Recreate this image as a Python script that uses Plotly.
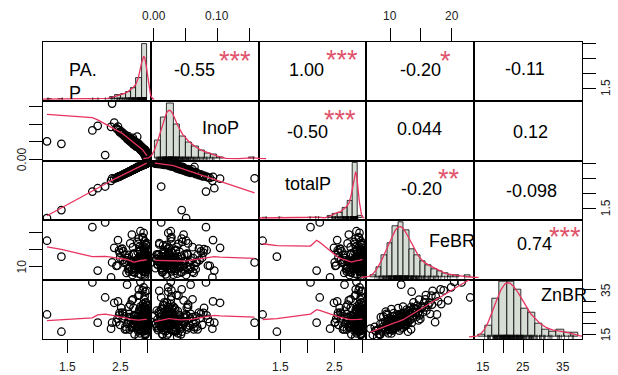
import numpy as np
import plotly.graph_objects as go
from plotly.subplots import make_subplots

# ---------------- data ----------------
PA_P = [1.12, 1.39, 1.97, 2.07, 2.21, 2.32, 2.34, 2.62, 2.87, 2.93, 2.99,
        2.97, 2.81, 2.91, 2.71, 2.99, 2.61, 2.94, 2.51, 2.96,
        2.98, 2.81, 2.92, 2.71, 2.95, 2.42, 2.99, 2.64, 2.93,
        2.97, 2.82, 2.53, 2.72, 2.98, 2.45, 2.91, 2.82, 2.96,
        2.94, 2.83, 2.65, 2.73, 2.99, 2.38, 2.95, 2.83, 2.92,
        2.98, 2.84, 2.97, 2.74, 2.93, 2.55, 2.96, 2.84, 2.99,
        2.91, 2.85, 2.95, 2.75, 2.98, 2.66, 2.94, 2.85, 2.97,
        2.92, 2.85, 2.96, 2.75, 2.99, 2.47, 2.93, 2.86, 2.98,
        2.95, 2.86, 2.97, 2.76, 2.91, 2.57, 2.94, 2.87, 2.96,
        2.99, 2.87, 2.92, 2.77, 2.98, 2.67, 2.95, 2.88, 2.97,
        2.93, 2.88, 2.96, 2.78, 2.94, 2.49, 2.99, 2.88, 2.98,
        2.91, 2.89, 2.95, 2.79, 2.97, 2.68, 2.92, 2.89, 2.96,
        2.93, 2.89, 2.98, 2.79, 2.94, 2.59, 2.95, 2.89, 2.97,
        2.69,
        2.93, 2.97, 2.91, 2.95, 2.98, 2.94, 2.96, 2.92, 2.99, 2.97,
        2.95, 2.93, 2.98, 2.91, 2.96, 2.94, 2.99, 2.92, 2.97, 2.95,
        2.81, 2.83, 2.85, 2.86, 2.87, 2.88, 2.84, 2.89,
        2.72, 2.74, 2.76, 2.78, 2.73, 2.63, 2.66, 2.68, 2.54, 2.58, 2.44, 2.48]

InoP = [0.051, 0.044, 0.082, 0.095, 0.012, 0.092, 0.158, 0.058, 0.027, 0.023, 0.002,
        0.019, 0.064, 0.031, 0.055, 0.012, 0.063, 0.024, 0.079, 0.021,
        0.015, 0.045, 0.027, 0.047, 0.022, 0.088, 0.004, 0.066, 0.025,
        0.014, 0.041, 0.071, 0.051, 0.009, 0.093, 0.028, 0.038, 0.016,
        0.021, 0.035, 0.054, 0.044, 0.017, 0.104, 0.019, 0.039, 0.024,
        0.018, 0.033, 0.022, 0.048, 0.028, 0.074, 0.024, 0.037, 0.009,
        0.025, 0.031, 0.026, 0.041, 0.005, 0.061, 0.027, 0.036, 0.008,
        0.029, 0.034, 0.013, 0.053, 0.014, 0.083, 0.019, 0.032, 0.013,
        0.015, 0.038, 0.017, 0.043, 0.029, 0.066, 0.018, 0.031, 0.018,
        0.006, 0.035, 0.021, 0.046, 0.021, 0.052, 0.023, 0.033, 0.012,
        0.019, 0.029, 0.023, 0.039, 0.025, 0.076, 0.003, 0.036, 0.007,
        0.022, 0.031, 0.017, 0.042, 0.025, 0.057, 0.026, 0.026, 0.011,
        0.026, 0.034, 0.016, 0.036, 0.016, 0.068, 0.021, 0.028, 0.006,
        0.049,
        0.024, 0.011, 0.033, 0.018, 0.008, 0.026, 0.015, 0.029, 0.005, 0.021,
        0.023, 0.017, 0.012, 0.027, 0.014, 0.022, 0.009, 0.025, 0.016, 0.028,
        0.047, 0.042, 0.038, 0.035, 0.039, 0.031, 0.044, 0.033,
        0.056, 0.052, 0.049, 0.045, 0.061, 0.062, 0.058, 0.054, 0.072, 0.069, 0.085, 0.078]

totalP = [1.171, 1.434, 2.052, 2.165, 2.222, 2.412, 2.498, 2.678, 2.897, 2.953, 2.992,
          2.989, 2.874, 2.941, 2.765, 3.002, 2.673, 2.964, 2.589, 2.981,
          2.995, 2.855, 2.947, 2.757, 2.972, 2.508, 2.994, 2.706, 2.955,
          2.984, 2.861, 2.601, 2.771, 2.989, 2.543, 2.938, 2.858, 2.976,
          2.961, 2.865, 2.704, 2.774, 3.007, 2.484, 2.969, 2.869, 2.944,
          2.998, 2.873, 2.992, 2.788, 2.958, 2.624, 2.984, 2.877, 2.999,
          2.935, 2.881, 2.976, 2.791, 2.985, 2.721, 2.967, 2.886, 2.978,
          2.949, 2.884, 2.973, 2.803, 3.004, 2.553, 2.949, 2.892, 2.993,
          2.965, 2.898, 2.987, 2.803, 2.939, 2.636, 2.958, 2.901, 2.978,
          2.996, 2.905, 2.941, 2.816, 3.001, 2.722, 2.973, 2.913, 2.982,
          2.949, 2.909, 2.983, 2.819, 2.965, 2.566, 2.993, 2.916, 2.987,
          2.932, 2.921, 2.967, 2.832, 2.995, 2.737, 2.946, 2.916, 2.971,
          2.956, 2.924, 2.996, 2.826, 2.956, 2.658, 2.971, 2.918, 2.976,
          2.739,
          2.954, 2.981, 2.943, 2.968, 2.988, 2.966, 2.975, 2.949, 2.995, 2.991,
          2.973, 2.947, 2.992, 2.937, 2.974, 2.962, 2.999, 2.945, 2.986, 2.978,
          2.857, 2.872, 2.888, 2.895, 2.909, 2.911, 2.884, 2.923,
          2.776, 2.792, 2.809, 2.825, 2.791, 2.692, 2.718, 2.734, 2.612, 2.649, 2.525, 2.558]

FeBR = [17.6, 12.9, 21.6, 8.8, 23.0, 6.8, 11.2, 11.8, 20.4, 19.9, 12.6,
        11.1, 10.1, 12.1, 9.1, 13.1, 8.1, 14.1, 15.1, 7.2,
        16.2, 17.3, 18.3, 19.4, 11.3, 10.2, 12.2, 9.2, 13.2,
        8.3, 14.3, 15.3, 7.5, 16.5, 17.8, 18.7, 11.4, 10.3,
        12.3, 9.3, 13.4, 8.4, 14.4, 15.5, 7.7, 16.7, 11.5,
        10.4, 12.4, 9.4, 13.5, 8.6, 14.5, 15.6, 7.9, 16.9,
        11.6, 10.5, 12.5, 9.5, 13.6, 8.5, 14.7, 15.8, 11.7,
        10.6, 12.7, 9.6, 13.7, 8.9, 14.8, 15.9, 11.9, 10.7,
        12.8, 9.7, 13.8, 8.2, 14.2, 11.1, 10.8, 12.1, 9.8,
        13.3, 14.9, 11.2, 10.9, 12.3, 9.9, 13.9, 11.3, 10.2,
        12.4, 9.3, 13.5, 11.4, 10.3, 12.6, 9.5, 11.5, 10.5,
        12.7, 9.7, 11.6, 10.6, 12.8, 9.9, 11.7, 10.7, 12.2,
        11.8, 10.8, 12.9, 11.9, 10.9, 11.3, 10.4, 11.5, 10.6,
        11.7,
        10.4, 12.3, 8.7, 11.4, 13.6, 9.6, 14.3, 10.9, 12.1, 16.4,
        10.2, 11.8, 9.2, 12.7, 8.4, 15.2, 11.1, 13.2, 10.6, 17.4,
        11.6, 9.8, 12.9, 14.6, 10.7, 7.6, 18.2, 12.4,
        11.3, 13.8, 8.9, 10.1, 15.7, 12.5, 9.4, 16.8, 11.9, 13.4, 10.3, 14.1]

ZnBR = [23.9, 16.1, 38.4, 20.2, 31.6, 17.5, 20.2, 37.4, 38.7, 36.2, 23.4,
        19.4, 18.2, 21.8, 17.9, 24.4, 17.2, 25.1, 26.9, 14.6,
        28.2, 20.4, 28.6, 30.3, 22.4, 20.4, 19.5, 20.8, 22.1,
        15.1, 22.9, 24.8, 18.3, 24.2, 29.8, 34.8, 18.7, 16.7,
        24.6, 16.3, 27.3, 19.6, 27.9, 29.2, 16.4, 32.4, 24.1,
        22.9, 22.2, 19.1, 20.1, 16.8, 24.3, 27.1, 13.8, 34.6,
        21.2, 19.3, 18.8, 23.6, 25.6, 22.7, 30.6, 32.7, 17.6,
        24.5, 26.1, 18.6, 23.2, 18.4, 23.5, 25.7, 20.9, 17.8,
        20.7, 15.4, 29.4, 14.9, 26.4, 23.1, 21.1, 27.5, 21.4,
        21.6, 21.9, 19.0, 18.9, 21.3, 17.1, 26.5, 26.8, 26.3,
        19.8, 25.2, 34.2, 21.5, 19.8, 19.2, 19.7, 16.6, 16.8,
        23.9, 16.9, 22.8, 21.7, 22.9, 22.1, 19.9, 23.3, 22.6,
        19.3, 18.1, 20.3, 20.5, 20.6, 18.4, 17.4, 23.7, 18.6,
        20.8,
        18.5, 20.7, 16.2, 22.3, 24.9, 19.4, 26.6, 21.1, 17.9, 29.3,
        15.3, 23.2, 18.1, 21.7, 14.8, 27.4, 19.8, 23.8, 20.3, 32.1,
        22.6, 17.3, 25.4, 21.2, 19.1, 16.6, 35.3, 20.4,
        18.9, 26.9, 22.9, 20.9, 30.8, 19.6, 24.2, 28.4, 22.1, 17.2, 21.9, 24.6]

diag_labels = ["PA.<br>P", "InoP", "totalP", "FeBR", "ZnBR"]

cor_text = ["-0.55", "1.00", "-0.20", "-0.11", "-0.50", "0.044", "0.12", "-0.20", "-0.098", "0.74"]
cor_stars = ["***", "***", "*", "", "***", "", "", "**", "", "***"]

col_tickvals = [[1.5, 2.0, 2.5, 3.0], [0.0, 0.05, 0.10, 0.15], [1.5, 2.0, 2.5, 3.0], [10, 15, 20], [15, 20, 25, 30, 35]]
col_ticktext = [["1.5", "", "2.5", ""], ["0.00", "", "0.10", ""], ["1.5", "", "2.5", ""], ["10", "", "20"], ["15", "", "25", "", "35"]]
row_ticktext = [["1.5", "", "", ""], ["0.00", "", "", ""], ["1.5", "", "", ""], ["10", "", ""], ["15", "", "", "", "35"]]

# ---------------- style / layout constants ----------------
W, H = 618, 375
ML, MR, MT, MB = 43, 36, 42, 36
RED = "#E8335F"
STAR = "#DF536B"
BARFILL = "#D5DDD5"
FONT = "Liberation Sans, Arial, Helvetica, sans-serif"
TICKLEN = 13
hist_start = [1.1, 0.0, 1.1, 6.0, 12.0]
hist_size = [0.1, 0.01, 0.1, 1.0, 2.0]

data = [np.array(PA_P, float), np.array(InoP, float), np.array(totalP, float),
        np.array(FeBR, float), np.array(ZnBR, float)]
nv = 5


def px2x(px):
    return (px - ML) / (W - ML - MR)


def py2y(py):
    return (H - MB - py) / (H - MT - MB)


def r_range(v):
    lo, hi = float(np.min(v)), float(np.max(v))
    d = 0.04 * (hi - lo)
    return [lo - d, hi + d]


def lowess(x, y, f=2 / 3, it=3):
    x = np.asarray(x, float)
    y = np.asarray(y, float)
    o = np.argsort(x, kind="mergesort")
    x, y = x[o], y[o]
    n = len(x)
    ns = max(min(int(f * n + 1e-7), n), 2)
    rw = np.ones(n)
    fit = np.zeros(n)
    span = x.max() - x.min()
    for k in range(it + 1):
        for i in range(n):
            d = np.abs(x - x[i])
            h = np.sort(d)[ns - 1]
            if h <= 0:
                h = 1e-12
            u = np.clip(d / h, 0, 1)
            w = (1 - u ** 3) ** 3 * rw
            sw = w.sum()
            if sw <= 0:
                fit[i] = y[i]
                continue
            xm = (w * x).sum() / sw
            ym = (w * y).sum() / sw
            vx = (w * (x - xm) ** 2).sum() / sw
            if np.sqrt(vx) > 0.001 * span:
                b = (w * (x - xm) * (y - ym)).sum() / (vx * sw)
                fit[i] = ym + b * (x[i] - xm)
            else:
                fit[i] = ym
        if k == it:
            break
        res = y - fit
        s = np.median(np.abs(res))
        if s == 0:
            break
        u = np.clip(res / (6 * s), -1, 1)
        rw = (1 - u ** 2) ** 2
    return x, fit


def kde(v):
    v = np.asarray(v, float)
    n = len(v)
    sd = v.std(ddof=1)
    q75, q25 = np.percentile(v, [75, 25])
    lo = min(sd, (q75 - q25) / 1.34) if q75 > q25 else sd
    bw = 0.9 * lo * n ** -0.2
    g = np.linspace(v.min() - 3 * bw, v.max() + 3 * bw, 512)
    d = np.exp(-0.5 * ((g[:, None] - v[None, :]) / bw) ** 2).sum(1) / (n * bw * np.sqrt(2 * np.pi))
    return g, d


def col_paper(c, val):
    r0, r1 = r_range(data[c])
    return c / 5 + (val - r0) / (r1 - r0) / 5


def row_paper(r, val):
    r0, r1 = r_range(data[r])
    return 1 - (r + 1) / 5 + (val - r0) / (r1 - r0) / 5


fig = make_subplots(rows=5, cols=5, horizontal_spacing=0, vertical_spacing=0)

base_axis = dict(showline=True, mirror=True, linecolor="black", linewidth=1,
                 showgrid=False, zeroline=False, ticks="", showticklabels=False,
                 fixedrange=True, automargin=False)
tick_axis = dict(ticks="outside", ticklen=TICKLEN, tickwidth=1, tickcolor="black")

for r in range(nv):
    for c in range(nv):
        xr_ = r_range(data[c])
        yr_ = r_range(data[r])
        xa = dict(base_axis, range=xr_)
        ya = dict(base_axis, range=yr_)
        if r == 0 and c in (1, 3):
            xa.update(tick_axis, side="top", tickvals=col_tickvals[c])
        if r == nv - 1 and c in (0, 2, 4):
            xa.update(tick_axis, side="bottom", tickvals=col_tickvals[c])
        if c == 0 and r in (1, 3):
            ya.update(tick_axis, side="left", tickvals=col_tickvals[r])
        if c == nv - 1 and r in (0, 2, 4):
            ya.update(tick_axis, side="right", tickvals=col_tickvals[r])
        fig.update_xaxes(row=r + 1, col=c + 1, **xa)
        fig.update_yaxes(row=r + 1, col=c + 1, **ya)

        if r > c:
            fig.add_trace(go.Scatter(
                x=data[c], y=data[r], mode="markers", hoverinfo="skip",
                marker=dict(symbol="circle-open", size=7.5, color="black", line=dict(width=1.25))),
                row=r + 1, col=c + 1)
            lx, ly = lowess(data[c], data[r])
            fig.add_trace(go.Scatter(x=lx, y=ly, mode="lines", hoverinfo="skip",
                                     line=dict(color=RED, width=1.3)),
                          row=r + 1, col=c + 1)
        else:
            # invisible anchor trace so that the (empty) panel frame and its axis are drawn
            fig.add_trace(go.Scatter(x=[xr_[0]], y=[yr_[0]], mode="markers", hoverinfo="skip",
                                     marker=dict(size=1, opacity=0)),
                          row=r + 1, col=c + 1)

# ---------------- diagonal: histogram + density + rug on overlay axes ----------------
ex = 16 / (W - ML - MR)
ey = 6 / (H - MT - MB)
for i in range(nv):
    v = data[i]
    st, sz = hist_start[i], hist_size[i]
    nb = int(np.ceil((v.max() - st) / sz + 1e-9))
    edges = st + sz * np.arange(nb + 1)
    counts, _ = np.histogram(v, edges)
    dens = counts / (len(v) * sz)
    M = dens.max()
    x0, x1 = edges[0], edges[-1]
    xr = [x0 - 0.04 * (x1 - x0), x1 + 0.04 * (x1 - x0)]
    yr = [-0.04 * M, 1.04 * M]
    dx = [i / 5, (i + 1) / 5]
    dy = [1 - (i + 1) / 5, 1 - i / 5]
    ndx = [max(0.0, dx[0] - ex), min(1.0, dx[1] + ex)]
    ndy = [max(0.0, dy[0] - ey), min(1.0, dy[1] + ey)]
    sx = (xr[1] - xr[0]) / (dx[1] - dx[0])
    sy = (yr[1] - yr[0]) / (dy[1] - dy[0])
    nxr = [xr[0] - (dx[0] - ndx[0]) * sx, xr[1] + (ndx[1] - dx[1]) * sx]
    nyr = [yr[0] - (dy[0] - ndy[0]) * sy, yr[1] + (ndy[1] - dy[1]) * sy]
    k = 26 + i
    fig.update_layout(**{
        f"xaxis{k}": dict(domain=ndx, range=nxr, anchor=f"y{k}", visible=False,
                          fixedrange=True, automargin=False),
        f"yaxis{k}": dict(domain=ndy, range=nyr, anchor=f"x{k}", visible=False,
                          fixedrange=True, automargin=False),
    })
    fig.add_trace(go.Histogram(
        x=v, xbins=dict(start=st, end=edges[-1], size=sz), histnorm="probability density",
        marker=dict(color=BARFILL, line=dict(color="black", width=0.8)),
        xaxis=f"x{k}", yaxis=f"y{k}", hoverinfo="skip"))
    g, d = kde(v)
    fig.add_trace(go.Scatter(x=g, y=d, mode="lines", line=dict(color=RED, width=1.3),
                             xaxis=f"x{k}", yaxis=f"y{k}", hoverinfo="skip"))
    fig.add_trace(go.Scatter(x=v, y=np.full(len(v), yr[0] + 0.035 * (yr[1] - yr[0])), mode="markers",
                             marker=dict(symbol="line-ns", size=3, line=dict(width=0.6, color="black")),
                             xaxis=f"x{k}", yaxis=f"y{k}", hoverinfo="skip", cliponaxis=False))

# ---------------- text ----------------
ann = []
tfont = dict(family=FONT, size=12, color="#222")
for c in range(nv):
    for val, txt in zip(col_tickvals[c], col_ticktext[c]):
        if not txt:
            continue
        if c in (1, 3):
            ann.append(dict(x=col_paper(c, val), y=1, xref="paper", yref="paper", text=txt,
                            showarrow=False, xanchor="center", yanchor="bottom",
                            yshift=TICKLEN + 4, font=tfont))
        else:
            ann.append(dict(x=col_paper(c, val), y=0, xref="paper", yref="paper", text=txt,
                            showarrow=False, xanchor="center", yanchor="top",
                            yshift=-(TICKLEN + 6), font=tfont))
for r in range(nv):
    for val, txt in zip(col_tickvals[r], row_ticktext[r]):
        if not txt:
            continue
        if r in (1, 3):
            ann.append(dict(x=0, y=row_paper(r, val), xref="paper", yref="paper", text=txt,
                            showarrow=False, xanchor="right", yanchor="middle", textangle=-90,
                            xshift=-12, font=tfont))
        else:
            ann.append(dict(x=1, y=row_paper(r, val), xref="paper", yref="paper", text=txt,
                            showarrow=False, xanchor="left", yanchor="middle", textangle=-90,
                            xshift=15, font=tfont))

label_pos = [(67, 81.5, "left"), (220, 128, "center"), (308, 184, "center"),
             (451.5, 240.5, "center"), (563.5, 295, "center")]
for i in range(nv):
    px, py, anc = label_pos[i]
    ann.append(dict(x=px2x(px), y=py2y(py), xref="paper", yref="paper", text=diag_labels[i],
                    showarrow=False, xanchor=anc, yanchor="middle", align="left",
                    font=dict(family=FONT, size=18, color="black")))

num_pos = [(194.5, 70), (306.5, 70), (420, 70), (525, 69.5), (307.5, 131.5),
           (419.5, 129), (530.5, 131.5), (421, 188.5), (531, 190.5), (534.5, 243.5)]
star_pos = [(235, 55), (342, 54), (445, 55), (0, 0), (340, 114),
            (0, 0), (0, 0), (448.5, 173), (0, 0), (564.5, 231)]
for t in range(len(cor_text)):
    px, py = num_pos[t]
    ann.append(dict(x=px2x(px), y=py2y(py), xref="paper", yref="paper", text=cor_text[t],
                    showarrow=False, xanchor="center", yanchor="middle",
                    font=dict(family=FONT, size=18, color="black")))
    if cor_stars[t]:
        sx_, sy_ = star_pos[t]
        ann.append(dict(x=px2x(sx_), y=py2y(sy_), xref="paper", yref="paper", text=cor_stars[t],
                        showarrow=False, xanchor="center", yanchor="middle", yshift=-6,
                        font=dict(family=FONT, size=27, color=STAR)))

fig.update_layout(
    width=W, height=H, margin=dict(l=ML, r=MR, t=MT, b=MB),
    paper_bgcolor="white", plot_bgcolor="rgba(0,0,0,0)",
    showlegend=False, annotations=ann, bargap=0,
)

# the page body has a default 8px margin; remove it so the figure sits at the window origin
fig.write_html("out.html", config={"displayModeBar": False},
               post_script="document.body.style.margin='0px';")
